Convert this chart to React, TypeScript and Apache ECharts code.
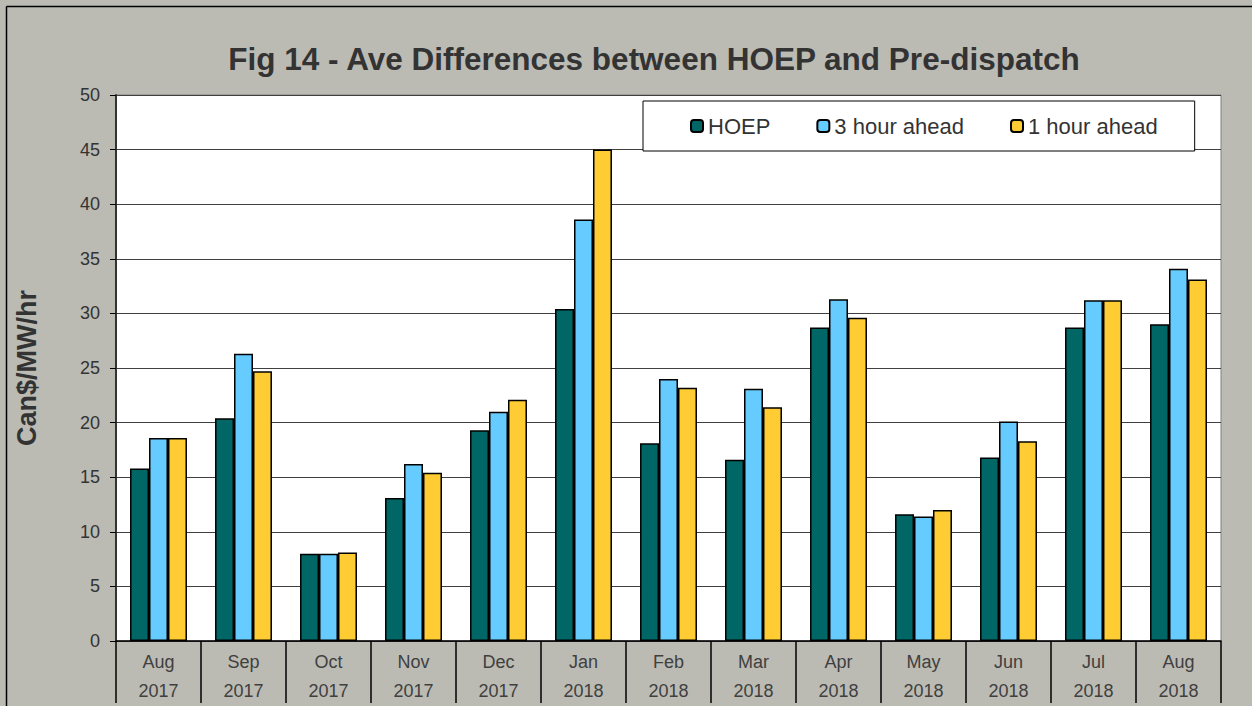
import React, { useEffect, useRef } from "react";
import * as echarts from "echarts";

const months = ["Aug\n2017", "Sep\n2017", "Oct\n2017", "Nov\n2017", "Dec\n2017", "Jan\n2018", "Feb\n2018", "Mar\n2018", "Apr\n2018", "May\n2018", "Jun\n2018", "Jul\n2018", "Aug\n2018"];
const hoep = [15.8, 20.4, 8.0, 13.1, 19.3, 30.4, 18.1, 16.6, 28.7, 11.6, 16.8, 28.7, 29.0];
const threeHour = [18.6, 26.3, 8.0, 16.2, 21.0, 38.6, 24.0, 23.1, 31.3, 11.4, 20.1, 31.2, 34.1];
const oneHour = [18.6, 24.7, 8.1, 15.4, 22.1, 45.0, 23.2, 21.4, 29.6, 12.0, 18.3, 31.2, 33.1];

const FONT = "'Liberation Sans', Arial, sans-serif";

export default function App() {
  const ref = useRef<HTMLDivElement>(null);
  useEffect(() => {
    document.body.style.margin = "0";
    const chart = echarts.init(ref.current!, null, { renderer: "svg" });
    const barStyle = (color: string) => ({ color, borderColor: "#000", borderWidth: 1.5 });
    chart.setOption({
      animation: false,
      backgroundColor: "#bbbbb3",
      textStyle: { fontFamily: FONT },
      title: {
        text: "Fig 14 - Ave Differences between HOEP and Pre-dispatch",
        left: 649,
        textAlign: "center",
        top: 38,
        textStyle: { fontSize: 31.5, fontWeight: "bold", color: "#333", fontFamily: FONT },
      },
      legend: {
        left: 643,
        top: 101,
        padding: [14, 37, 14, 47],
        itemWidth: 12,
        itemHeight: 12,
        itemGap: 46,
        backgroundColor: "#fff",
        borderColor: "#000",
        borderWidth: 1,
        textStyle: { fontSize: 22, color: "#333", fontFamily: FONT },
        data: ["HOEP", "3 hour ahead", "1 hour ahead"],
      },
      grid: {
        left: 116,
        right: 31,
        top: 95,
        bottom: 65,
        show: true,
        backgroundColor: "#fff",
        borderColor: "#808080",
        borderWidth: 1,
      },
      xAxis: {
        type: "category",
        data: months,
        axisLine: { lineStyle: { color: "#000", width: 1.5 } },
        axisTick: { show: true, length: 62, lineStyle: { color: "#000", width: 1.5 } },
        axisLabel: { fontSize: 18, color: "#404040", lineHeight: 29, margin: 6, fontFamily: FONT },
      },
      yAxis: {
        type: "value",
        min: 0,
        max: 50,
        interval: 5,
        name: "Can$/MW/hr",
        nameLocation: "middle",
        nameGap: 76,
        nameTextStyle: { fontSize: 27, fontWeight: "bold", color: "#333", fontFamily: FONT },
        axisLine: { show: true, lineStyle: { color: "#333", width: 2 } },
        axisTick: { show: true, length: 6, lineStyle: { color: "#000", width: 1 } },
        axisLabel: { fontSize: 18, color: "#333", margin: 16, fontFamily: FONT },
        splitLine: { lineStyle: { color: "#404040", width: 1 } },
      },
      series: [
        { name: "HOEP", type: "bar", data: hoep, itemStyle: barStyle("#006666"), barGap: "0%", barCategoryGap: "33%" },
        { name: "3 hour ahead", type: "bar", data: threeHour, itemStyle: barStyle("#66ccff"), barGap: "0%", barCategoryGap: "33%" },
        { name: "1 hour ahead", type: "bar", data: oneHour, itemStyle: barStyle("#ffcc33"), barGap: "0%", barCategoryGap: "33%" },
      ],
      graphic: [
        { type: "line", shape: { x1: 6.5, y1: 6.5, x2: 6.5, y2: 706 }, style: { stroke: "#000", lineWidth: 1.5 }, silent: true },
        { type: "line", shape: { x1: 6.5, y1: 6.5, x2: 1252, y2: 6.5 }, style: { stroke: "#000", lineWidth: 1.5 }, silent: true },
      ],
    });
    return () => chart.dispose();
  }, []);
  return <div ref={ref} style={{ width: 1252, height: 706 }} />;
}
